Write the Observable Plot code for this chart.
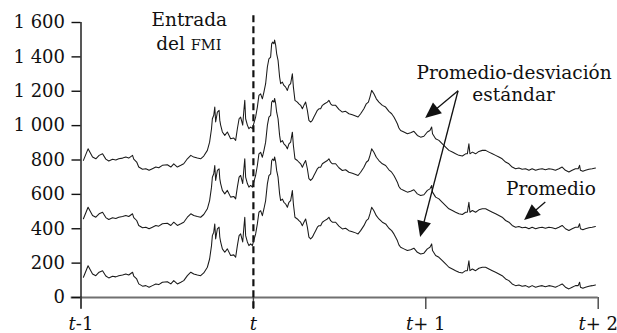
<!DOCTYPE html>
<html>
<head>
<meta charset="utf-8">
<script src="https://cdn.jsdelivr.net/npm/d3@7"></script>
<script src="https://cdn.jsdelivr.net/npm/@observablehq/plot@0.6"></script>
<style>
  html, body { margin: 0; padding: 0; background: #fff; }
  #chart svg { display: block; }
</style>
</head>
<body>
<div id="chart"></div>
<script>
// Time, in periods relative to the entry of the IMF (t = 0)
const tiempo = [
  -0.986,-0.959,-0.933,-0.914,-0.895,-0.875,-0.856,-0.839,-0.817,-0.798,
  -0.781,-0.759,-0.740,-0.723,-0.701,-0.694,-0.677,-0.665,-0.643,-0.624,
  -0.605,-0.586,-0.566,-0.549,-0.528,-0.499,-0.479,-0.462,-0.441,-0.421,
  -0.404,-0.383,-0.363,-0.346,-0.325,-0.306,-0.288,-0.267,-0.254,-0.243,
  -0.238,-0.230,-0.224,-0.219,-0.209,-0.199,-0.195,-0.190,-0.180,-0.166,
  -0.151,-0.132,-0.114,-0.103,-0.093,-0.083,-0.074,-0.062,-0.056,-0.050,
  -0.045,-0.035,-0.026,-0.016,-0.006,0.013,0.023,0.032,0.042,0.052,
  0.061,0.071,0.081,0.090,0.100,0.106,0.112,0.119,0.123,0.129,
  0.135,0.143,0.152,0.158,0.168,0.177,0.187,0.197,0.206,0.216,
  0.226,0.232,0.241,0.255,0.264,0.274,0.284,0.293,0.303,0.313,
  0.322,0.332,0.342,0.351,0.361,0.371,0.380,0.390,0.400,0.413,
  0.429,0.438,0.448,0.458,0.477,0.496,0.516,0.535,0.554,0.574,
  0.593,0.607,0.622,0.641,0.655,0.667,0.676,0.686,0.699,0.713,
  0.728,0.748,0.767,0.786,0.802,0.815,0.825,0.835,0.844,0.854,
  0.873,0.893,0.912,0.931,0.951,0.970,0.989,1.009,1.024,1.034,
  1.039,1.057,1.076,1.096,1.115,1.134,1.154,1.173,1.192,1.212,
  1.231,1.241,1.250,1.256,1.270,1.289,1.308,1.328,1.347,1.366,
  1.386,1.405,1.424,1.443,1.463,1.482,1.501,1.521,1.540,1.559,
  1.579,1.598,1.617,1.637,1.656,1.675,1.694,1.714,1.733,1.752,
  1.772,1.791,1.810,1.830,1.849,1.868,1.884,1.892,1.897,1.911,
  1.926,1.946,1.965,1.984
];

// Promedio (mean)
const promedio = [
  458,525,477,467,487,496,465,454,464,460,
  467,471,477,471,487,465,448,419,406,409,
  400,409,419,415,429,432,419,438,419,429,
  438,467,487,477,471,467,483,516,564,642,
  700,720,768,681,739,749,692,663,623,603,
  623,584,588,574,642,700,710,663,739,807,
  700,663,642,652,642,710,768,836,845,816,
  855,904,1001,1049,1059,1136,1146,1136,1158,1129,
  1078,1040,943,904,913,894,884,865,894,904,
  962,884,807,797,787,778,758,778,797,749,
  691,681,691,710,729,749,758,758,778,787,
  797,807,787,778,778,755,739,743,729,723,
  716,710,729,758,787,797,826,865,845,816,
  797,778,768,743,729,710,691,671,646,632,
  623,613,618,627,603,593,598,623,632,652,
  613,584,574,554,535,516,506,496,487,483,
  496,496,554,496,506,496,510,516,516,506,
  496,487,477,467,448,438,419,409,413,406,
  409,400,409,400,406,409,403,409,406,400,
  409,419,400,390,400,409,409,429,400,394,
  400,406,409,413
];

// Promedio + desviación estándar (upper band)
const promedioMasDesv = [
  798,865,817,807,827,836,805,794,804,800,
  807,811,817,811,827,805,788,759,746,749,
  740,749,759,755,769,772,759,778,759,769,
  778,807,827,817,811,807,823,856,904,982,
  1040,1060,1108,1021,1079,1089,1032,1003,963,943,
  963,924,928,914,982,1040,1050,1003,1079,1147,
  1040,1003,982,992,982,1050,1108,1176,1185,1156,
  1195,1244,1341,1389,1399,1476,1486,1476,1498,1469,
  1418,1380,1283,1244,1253,1234,1224,1205,1234,1244,
  1302,1224,1147,1137,1127,1118,1098,1118,1137,1089,
  1031,1021,1031,1050,1069,1089,1098,1098,1118,1127,
  1137,1147,1127,1118,1118,1095,1079,1083,1069,1063,
  1056,1050,1069,1098,1127,1137,1166,1205,1185,1156,
  1137,1118,1108,1083,1069,1050,1031,1011,986,972,
  963,953,958,967,943,933,938,963,972,992,
  953,924,914,894,875,856,846,836,827,823,
  836,836,894,836,846,836,850,856,856,846,
  836,827,817,807,788,778,759,749,753,746,
  749,740,749,740,746,749,743,749,746,740,
  749,759,740,730,740,749,749,769,740,734,
  740,746,749,753
];

// Promedio - desviación estándar (lower band)
const promedioMenosDesv = [
  118,185,137,127,147,156,125,114,124,120,
  127,131,137,131,147,125,108,79,66,69,
  60,69,79,75,89,92,79,98,79,89,
  98,127,147,137,131,127,143,176,224,302,
  360,380,428,341,399,409,352,323,283,263,
  283,244,248,234,302,360,370,323,399,467,
  360,323,302,312,302,370,428,496,505,476,
  515,564,661,709,719,796,806,796,818,789,
  738,700,603,564,573,554,544,525,554,564,
  622,544,467,457,447,438,418,438,457,409,
  351,341,351,370,389,409,418,418,438,447,
  457,467,447,438,438,415,399,403,389,383,
  376,370,389,418,447,457,486,525,505,476,
  457,438,428,403,389,370,351,331,306,292,
  283,273,278,287,263,253,258,283,292,312,
  273,244,234,214,195,176,166,156,147,143,
  156,156,214,156,166,156,170,176,176,166,
  156,147,137,127,108,98,79,69,73,66,
  69,60,69,60,66,69,63,69,66,60,
  69,79,60,50,60,69,69,89,60,54,
  60,66,69,73
];

const yTicks = [0, 200, 400, 600, 800, 1000, 1200, 1400, 1600];
const yTickLabels = ["0", "200", "400", "600", "800", "1 000", "1 200", "1 400", "1 600"];
const xTicks = [-1, 0, 1, 2];
const xTickLabels = ["t-1", "t", "t+ 1", "t+ 2"];
const entradaFMI = 0;

const series = [
  {serie: "Promedio + desviación estándar", valores: promedioMasDesv},
  {serie: "Promedio", valores: promedio},
  {serie: "Promedio - desviación estándar", valores: promedioMenosDesv}
];
const rows = series.flatMap(s => s.valores.map((v, i) => ({serie: s.serie, t: tiempo[i], v})));

const FONT = "'DejaVu Serif', 'Liberation Serif', serif";

const chart = Plot.plot({
  width: 617,
  height: 333,
  marginLeft: 80.5,
  marginRight: 19.3,
  marginTop: 22,
  marginBottom: 36,
  x: {domain: [-1, 2], label: null},
  y: {domain: [0, 1600], label: null},
  style: {fontFamily: FONT, fontSize: "18px", color: "#111", background: "#fff", overflow: "visible"},
  marks: [
    Plot.ruleY([0], {x1: -1.057, x2: 2, stroke: "#707070", strokeWidth: 2}),
    Plot.ruleX([-1], {y1: -66, y2: 1600, stroke: "#111", strokeWidth: 1.4}),
    Plot.axisY({ticks: yTicks, tickSize: 9, tickPadding: 7, label: null,
      tickFormat: d => yTickLabels[yTicks.indexOf(d)], fontSize: 18, stroke: "#111", fill: "#111", strokeWidth: 1.4}),
    Plot.axisX({ticks: xTicks, tickSize: 12, tickPadding: 8, label: null,
      tickFormat: d => xTickLabels[xTicks.indexOf(d)], fontSize: 18, stroke: "#444", fill: "#111", strokeWidth: 1.4}),
    Plot.ruleX([entradaFMI], {y1: -66, y2: 1658, stroke: "#111", strokeWidth: 2.2, strokeDasharray: "7,4"}),
    Plot.line(rows, {x: "t", y: "v", z: "serie", stroke: "#1a1a1a", strokeWidth: 1.05})
  ]
});

document.getElementById("chart").appendChild(chart);

// Italic "t" in x tick labels
const svg = d3.select(chart);
svg.selectAll('g[aria-label="x-axis tick label"] text').each(function() {
  const s = this.textContent;
  const el = d3.select(this);
  el.text(null);
  el.append("tspan").attr("font-style", "italic").text(s.slice(0, 1));
  if (s.length > 1) el.append("tspan").text(s.slice(1));
});

const X = chart.scale("x"), Y = chart.scale("y");

// Annotations (data coordinates)
const anotaciones = [
  {t: -0.369, v: 1576, parts: [["Entrada", 18.5]]},
  {t: -0.372, v: 1437, parts: [["del ", 18.5], ["FMI", 14.5]]},
  {t: 1.515, v: 1268, parts: [["Promedio-desviación", 18.5]]},
  {t: 1.512, v: 1140, parts: [["estándar", 18.5]]},
  {t: 1.729, v: 593, parts: [["Promedio", 18.5]]}
];
const flechas = [
  {t1: 1.190, v1: 1200, t2: 0.999, v2: 1041},
  {t1: 1.190, v1: 1200, t2: 0.970, v2: 349},
  {t1: 1.696, v1: 553, t2: 1.573, v2: 448}
];

const ann = svg.append("g").attr("font-family", FONT).attr("fill", "#111");
for (const a of anotaciones) {
  const txt = ann.append("text")
    .attr("x", X.apply(a.t)).attr("y", Y.apply(a.v))
    .attr("text-anchor", "middle");
  for (const [s, fs] of a.parts) txt.append("tspan").attr("font-size", fs).text(s);
}
const fg = svg.append("g");
for (const f of flechas) {
  const x1 = X.apply(f.t1), y1 = Y.apply(f.v1), x2 = X.apply(f.t2), y2 = Y.apply(f.v2);
  const dx = x2 - x1, dy = y2 - y1, len = Math.hypot(dx, dy);
  const ux = dx / len, uy = dy / len, L = 16, W = 7;
  const bx = x2 - ux * L, by = y2 - uy * L;
  fg.append("line").attr("x1", x1).attr("y1", y1).attr("x2", bx + ux * 2).attr("y2", by + uy * 2)
    .attr("stroke", "#111").attr("stroke-width", 1.3);
  fg.append("polygon")
    .attr("points", `${x2},${y2} ${bx - uy * W},${by + ux * W} ${bx + uy * W},${by - ux * W}`)
    .attr("fill", "#111");
}
</script>
</body>
</html>
